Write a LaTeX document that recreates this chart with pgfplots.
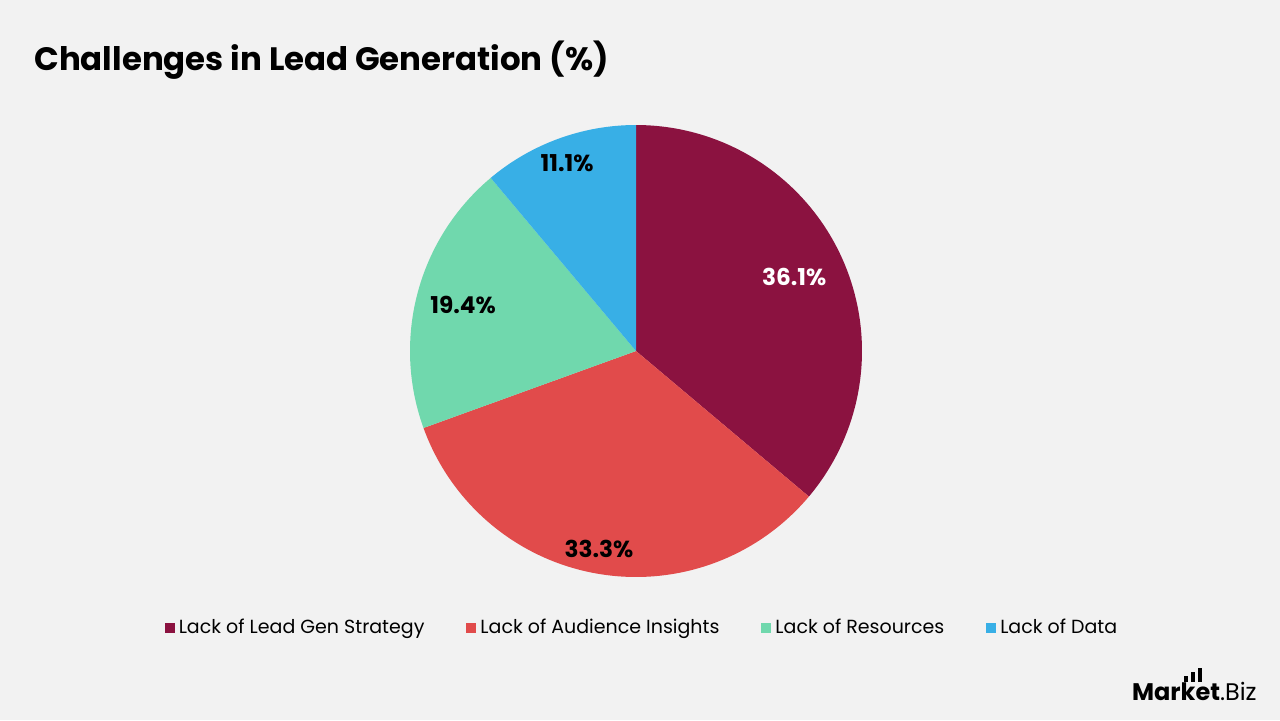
\documentclass[border=0pt]{standalone}
\usepackage{pgfplots}
\pgfplotsset{compat=1.18}
\usepackage{fontspec}
\setmainfont{Poppins}
\definecolor{bg}{HTML}{F2F2F2}
\definecolor{c1}{HTML}{8B1240}
\definecolor{c2}{HTML}{E14B4B}
\definecolor{c3}{HTML}{70D8AD}
\definecolor{c4}{HTML}{38AFE6}
% data (percent)
\def\va{36.1}\def\vb{33.3}\def\vc{19.4}\def\vd{11.1}
\pgfmathsetmacro{\k}{360/(\va+\vb+\vc+\vd)}
\pgfmathsetmacro{\aA}{90}
\pgfmathsetmacro{\aB}{\aA-\va*\k}
\pgfmathsetmacro{\aC}{\aB-\vb*\k}
\pgfmathsetmacro{\aD}{\aC-\vc*\k}
\pgfmathsetmacro{\aE}{\aD-\vd*\k}
\begin{document}
\begin{tikzpicture}
\fill[bg] (0,0) rectangle (640pt,360pt);
\node[anchor=base west, inner sep=0, font=\bfseries\fontsize{16.2}{19}\selectfont] at (17pt,325pt) {Challenges in Lead Generation (\%)};
\begin{axis}[
  at={(318pt,184.5pt)}, anchor=origin,
  x=113pt, y=113pt,
  xmin=-1, xmax=1, ymin=-1, ymax=1,
  hide axis, clip=false,
  legend columns=4,
  legend cell align=left,
  legend image code/.code={\path[#1,draw=none] (0pt,-2.5pt) rectangle (5pt,2.5pt);},
  legend style={at={(0.5155,-0.1128)}, anchor=center, draw=none, fill=none,
    font=\fontsize{9.5}{12}\selectfont, inner sep=0pt,
    /tikz/every even column/.append style={column sep=19pt}},
]
\addplot[fill=c1, draw=none, domain=\aB:\aA, samples=120] ({cos(x)},{sin(x)}) -- (axis cs:0,0) -- cycle;
\addlegendentry{Lack of Lead Gen Strategy}
\addplot[fill=c2, draw=none, domain=\aC:\aB, samples=120] ({cos(x)},{sin(x)}) -- (axis cs:0,0) -- cycle;
\addlegendentry{Lack of Audience Insights}
\addplot[fill=c3, draw=none, domain=\aD:\aC, samples=80] ({cos(x)},{sin(x)}) -- (axis cs:0,0) -- cycle;
\addlegendentry{Lack of Resources}
\addplot[fill=c4, draw=none, domain=\aE:\aD, samples=60] ({cos(x)},{sin(x)}) -- (axis cs:0,0) -- cycle;
\addlegendentry{Lack of Data}
\node[font=\bfseries\fontsize{11.6}{13}\selectfont, text=white] at (axis cs:0.70,0.327) {36.1\%};
\node[font=\bfseries\fontsize{11.6}{13}\selectfont] at (axis cs:-0.164,-0.876) {33.3\%};
\node[font=\bfseries\fontsize{11.6}{13}\selectfont] at (axis cs:-0.765,0.204) {19.4\%};
\node[font=\bfseries\fontsize{11.6}{13}\selectfont] at (axis cs:-0.305,0.832) {11.1\%};
\end{axis}
% logo
\node[anchor=base east, inner sep=0, font=\fontsize{12}{14}\selectfont] at (628.5pt,10pt) {\textbf{Market}.Biz};
\fill[black] (592pt,19pt) rectangle (594pt,22pt);
\fill[black] (595.5pt,19pt) rectangle (597.5pt,24pt);
\fill[black] (599pt,19pt) rectangle (601pt,26pt);
\end{tikzpicture}
\end{document}
